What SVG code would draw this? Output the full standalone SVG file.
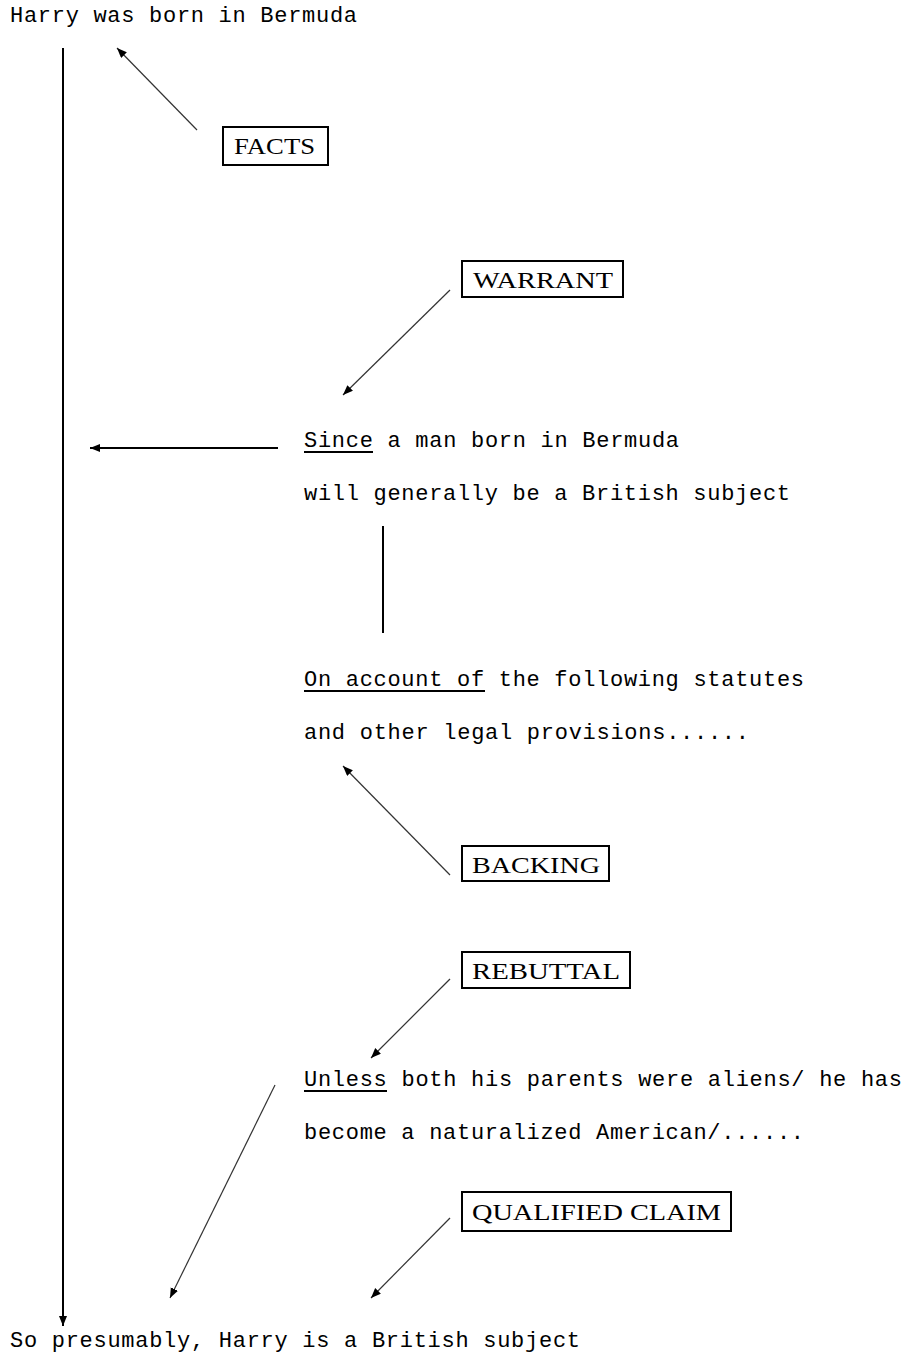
<svg xmlns="http://www.w3.org/2000/svg" width="906" height="1359" viewBox="0 0 906 1359">
<style>
.tt{font-family:"Liberation Mono","DejaVu Sans Mono",monospace;font-size:22px;fill:#000}
.lbl{font-family:"Liberation Serif","DejaVu Serif",serif;font-size:24px;fill:#000}
.box{fill:#fff;stroke:#000;stroke-width:2}
.thin{stroke:#333;stroke-width:1.2;fill:none}
.thick{stroke:#000;stroke-width:2;fill:none}
.ul{stroke:#000;stroke-width:2}
</style>
<defs>
<marker id="ah" markerUnits="userSpaceOnUse" markerWidth="12" markerHeight="10" refX="10" refY="4" orient="auto">
<path d="M0,0 L10,4 L0,8 z" fill="#000"/>
</marker>
</defs>
<rect width="906" height="1359" fill="#fff"/>
<g id="connectors">
<line class="thick" x1="63" y1="48" x2="63" y2="1326" marker-end="url(#ah)"/>
<line class="thin" x1="197" y1="130" x2="117" y2="48" marker-end="url(#ah)"/>
<line class="thin" x1="450" y1="290" x2="343" y2="395" marker-end="url(#ah)"/>
<line class="thick" x1="278" y1="448" x2="90" y2="448" marker-end="url(#ah)"/>
<line class="thick" x1="383" y1="526" x2="383" y2="633"/>
<line class="thin" x1="450" y1="875" x2="343" y2="766" marker-end="url(#ah)"/>
<line class="thin" x1="450" y1="979" x2="371" y2="1058" marker-end="url(#ah)"/>
<line class="thin" x1="275" y1="1085" x2="170" y2="1298" marker-end="url(#ah)"/>
<line class="thin" x1="450" y1="1218" x2="371" y2="1298" marker-end="url(#ah)"/>
</g>
<g id="facts-text">
<text class="tt" x="10" y="22" textLength="347" lengthAdjust="spacing">Harry was born in Bermuda</text>
</g>
<g id="facts">
<rect class="box" x="223" y="127" width="105" height="38"/>
<text class="lbl" x="234" y="154" textLength="81" lengthAdjust="spacingAndGlyphs">FACTS</text>
</g>
<g id="warrant">
<rect class="box" x="462" y="261" width="161" height="36"/>
<text class="lbl" x="473" y="288" textLength="140" lengthAdjust="spacingAndGlyphs">WARRANT</text>
</g>
<g id="warrant-text">
<text class="tt" x="304" y="447" textLength="375" lengthAdjust="spacing">Since a man born in Bermuda</text>
<line class="ul" x1="304" y1="452" x2="373" y2="452"/>
<text class="tt" x="304" y="500" textLength="486" lengthAdjust="spacing">will generally be a British subject</text>
</g>
<g id="backing-text">
<text class="tt" x="304" y="686" textLength="500" lengthAdjust="spacing">On account of the following statutes</text>
<line class="ul" x1="304" y1="691" x2="485" y2="691"/>
<text class="tt" x="304" y="739" textLength="445" lengthAdjust="spacing">and other legal provisions......</text>
</g>
<g id="backing">
<rect class="box" x="462" y="846" width="147" height="35"/>
<text class="lbl" x="472" y="873" textLength="128" lengthAdjust="spacingAndGlyphs">BACKING</text>
</g>
<g id="rebuttal">
<rect class="box" x="462" y="952" width="168" height="36"/>
<text class="lbl" x="472" y="979" textLength="148" lengthAdjust="spacingAndGlyphs">REBUTTAL</text>
</g>
<g id="rebuttal-text">
<text class="tt" x="304" y="1086" textLength="598" lengthAdjust="spacing">Unless both his parents were aliens/ he has</text>
<line class="ul" x1="304" y1="1091" x2="387" y2="1091"/>
<text class="tt" x="304" y="1139" textLength="500" lengthAdjust="spacing">become a naturalized American/......</text>
</g>
<g id="qualified-claim">
<rect class="box" x="462" y="1192" width="269" height="39"/>
<text class="lbl" x="472" y="1220" textLength="249" lengthAdjust="spacingAndGlyphs">QUALIFIED CLAIM</text>
</g>
<g id="claim-text">
<text class="tt" x="10" y="1347" textLength="570" lengthAdjust="spacing">So presumably, Harry is a British subject</text>
</g>
</svg>
